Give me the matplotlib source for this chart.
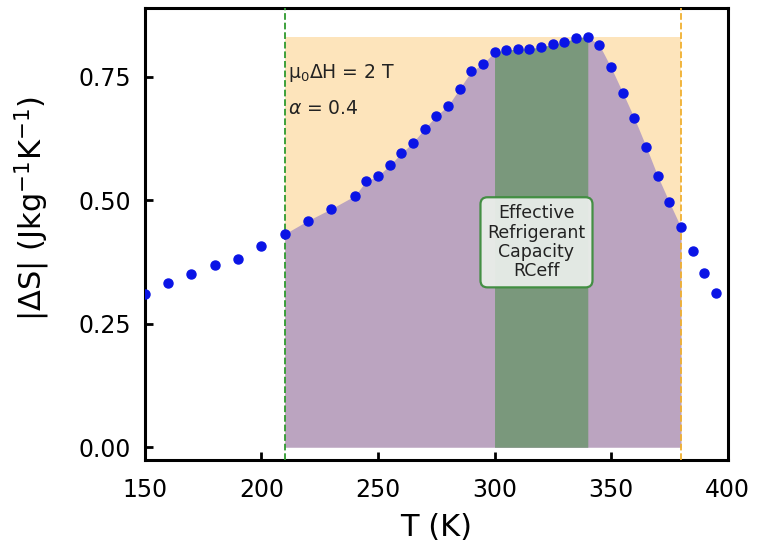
import numpy as np
import matplotlib
matplotlib.use("Agg")
import matplotlib.pyplot as plt

T = [150, 160, 170, 180, 190, 200, 210, 220, 230, 240, 245, 250, 255, 260,
     265, 270, 275, 280, 285, 290, 295, 300, 305, 310, 315, 320, 325, 330,
     335, 340, 345, 350, 355, 360, 365, 370, 375, 380, 385, 390, 395]
dS = [0.310, 0.333, 0.351, 0.370, 0.382, 0.408, 0.432, 0.459, 0.483, 0.509,
      0.539, 0.549, 0.571, 0.595, 0.617, 0.645, 0.671, 0.691, 0.726, 0.761,
      0.776, 0.800, 0.804, 0.806, 0.807, 0.810, 0.816, 0.820, 0.829, 0.831,
      0.814, 0.769, 0.718, 0.666, 0.609, 0.549, 0.496, 0.445, 0.398, 0.352,
      0.312]
T_low, T_high = 210, 380
T_eff_low, T_eff_high = 300, 340

T = np.array(T, dtype=float)
dS = np.array(dS)

fig = plt.figure(figsize=(7.58, 5.53), dpi=100)
ax = fig.add_axes([0.191, 0.168, 0.769, 0.818])

smax = dS.max()
ax.fill_between([T_low, T_high], 0, smax, color="#fde4bb", lw=0, zorder=1)
m = (T >= T_low) & (T <= T_high)
ax.fill_between(T[m], 0, dS[m], color="#bba4c0", lw=0, zorder=2)
m2 = (T >= T_eff_low) & (T <= T_eff_high)
ax.fill_between(T[m2], 0, dS[m2], color="#7a987c", lw=0, zorder=3)

ax.axvline(T_low, color="#2e9a2e", ls="--", lw=1.3, zorder=4)
ax.axvline(T_high, color="#f0b030", ls="--", lw=1.3, zorder=4)

ax.plot(T, dS, "o", color="#0a14e6", ms=6.5, zorder=5)

ax.text(211.5, 0.757, "μ$_0$ΔH = 2 T", fontsize=13.5, va="center", zorder=6, color="#222222")
ax.text(211.5, 0.686, r"$\alpha$ = 0.4", fontsize=13.5, va="center", zorder=6, color="#222222")
ax.text(318, 0.415, "Effective\nRefrigerant\nCapacity\nRCeff", fontsize=12.5,
        ha="center", va="center", linespacing=1.1, zorder=6, color="#222222",
        bbox=dict(boxstyle="round,pad=0.4", fc="#e9ede9", ec="#3c8c3c", lw=1.6, alpha=0.95))

ax.set_xlim(150, 400)
ax.set_ylim(-0.026, 0.89)
ax.set_xticks([150, 200, 250, 300, 350, 400])
ax.set_yticks([0.0, 0.25, 0.5, 0.75])
ax.set_yticklabels(["0.00", "0.25", "0.50", "0.75"])
ax.tick_params(direction="in", length=6, width=2, labelsize=17, pad=10)
ax.tick_params(axis="x", pad=13)
for s in ax.spines.values():
    s.set_linewidth(2.2)
ax.set_xlabel("T (K)", fontsize=22, labelpad=8)
ax.set_ylabel(r"|ΔS| (Jkg$^{\mathsf{-1}}$K$^{\mathsf{-1}}$)", fontsize=22)
ax.yaxis.set_label_coords(-0.16, 0.555)

fig.savefig("out.png", dpi=100)
